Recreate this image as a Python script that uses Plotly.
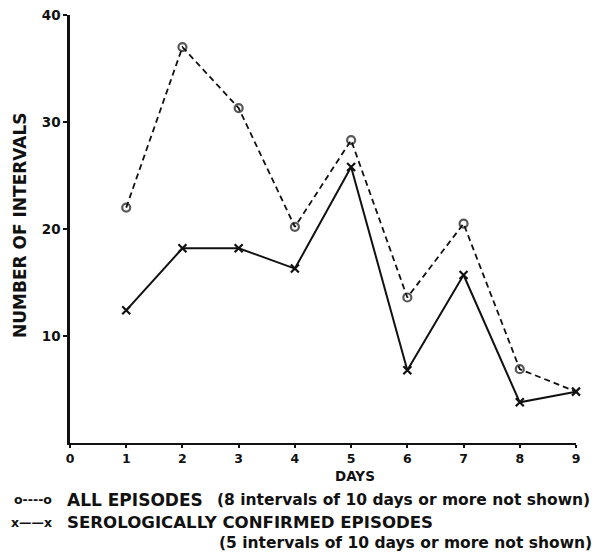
import plotly.graph_objects as go

days = [1, 2, 3, 4, 5, 6, 7, 8, 9]
all_episodes = [22.0, 37.0, 31.3, 20.2, 28.3, 13.6, 20.5, 6.9, 4.8]
sero_confirmed = [12.4, 18.2, 18.2, 16.3, 25.8, 6.8, 15.7, 3.8, 4.8]
x_ticks = [0, 1, 2, 3, 4, 5, 6, 7, 8, 9]
y_ticks = [10, 20, 30, 40]

FONT = "DejaVu Sans"
BLACK = "#111111"

# page has an 8px body margin; figure is sized to fill the rest of the window
OFF = 8
FW, FH = 601 - OFF, 556 - OFF
# plot area in page pixels
PX0, PX1, PY0, PY1 = 70, 576, 15, 443
L, R, T, B = PX0 - OFF, FW - (PX1 - OFF), PY0 - OFF, FH - (PY1 - OFF)
W = FW - L - R
H = FH - T - B


def px(X):
    return (X - OFF - L) / W


def py(Y):
    return (FH - B - (Y - OFF)) / H


fig = go.Figure()
all_sizes = [8] * (len(days) - 1) + [0]
fig.add_trace(go.Scatter(
    x=days, y=all_episodes, mode="lines+markers",
    line=dict(color=BLACK, width=1.8, dash="6px,4px"),
    marker=dict(symbol="circle-open", size=all_sizes, color=BLACK, line=dict(width=2.2, color=BLACK)),
    showlegend=False, cliponaxis=False,
))
fig.add_trace(go.Scatter(
    x=days, y=sero_confirmed, mode="lines+markers",
    line=dict(color=BLACK, width=2),
    marker=dict(symbol="x-thin-open", size=8, color=BLACK, line=dict(width=2.2, color=BLACK)),
    showlegend=False, cliponaxis=False,
))


def ann(text, X, Y, size, anchor="left", angle=0):
    return dict(text=text, x=px(X), y=py(Y), textangle=angle,
                font=dict(size=size, family=FONT, color=BLACK), showarrow=False,
                xref="paper", yref="paper", xanchor=anchor, yanchor="middle",
                borderpad=0, borderwidth=0)


annotations = [
    ann("<b>NUMBER OF INTERVALS</b>", 20, 225, 17, "center", -90),
    ann("<b>DAYS</b>", 355, 476, 13.5, "center"),
    ann("<b>o----o</b>", 52, 500, 12.5, "right"),
    ann("<b>ALL EPISODES</b>", 67, 500, 17),
    ann("<b>(8 intervals of 10 days or more not shown)</b>", 217, 500, 15.5),
    ann("<b>x\u2014\u2014x</b>", 52, 522, 12.5, "right"),
    ann("<b>SEROLOGICALLY CONFIRMED EPISODES</b>", 67, 522, 16.6),
    ann("<b>(5 intervals of 10 days or more not shown)</b>", 219, 543, 15.5),
]

fig.update_layout(
    width=FW, height=FH,
    margin=dict(l=L, r=R, t=T, b=B, pad=0, autoexpand=False),
    paper_bgcolor="white", plot_bgcolor="white",
    annotations=annotations,
    xaxis=dict(range=[0, 9], tickvals=x_ticks, ticktext=[f"<b>{v}</b>" for v in x_ticks],
               automargin=False, ticklabeloverflow="allow",
               showgrid=False, zeroline=False, showline=True, linecolor=BLACK, linewidth=2,
               ticks="outside", ticklen=3, tickwidth=2, tickcolor=BLACK,
               tickfont=dict(size=12.5, family=FONT, color=BLACK)),
    yaxis=dict(range=[0, 40], tickvals=y_ticks, ticktext=[f"<b>{v}</b>" for v in y_ticks],
               automargin=False, ticklabeloverflow="allow",
               showgrid=False, zeroline=False, showline=True, linecolor=BLACK, linewidth=2.5,
               ticks="outside", ticklen=4, tickwidth=2, tickcolor=BLACK,
               tickfont=dict(size=13.5, family=FONT, color=BLACK)),
)

fig.write_html("out.html")
